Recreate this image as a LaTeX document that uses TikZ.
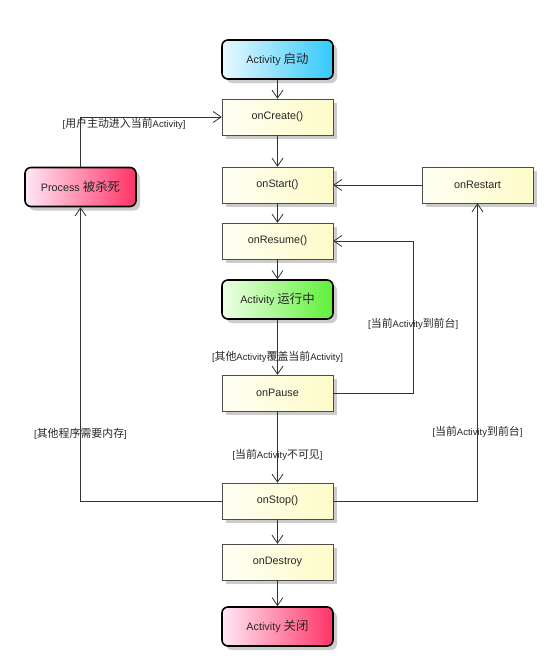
\documentclass[tikz,border=0pt]{standalone}
\usepackage{fontspec}
\setmainfont{Liberation Sans}
\newfontfamily\cjk[Scale=1.15]{Noto Sans CJK SC}
\usetikzlibrary{arrows.meta,shadows}
\definecolor{ylwA}{HTML}{FFFFF4}
\definecolor{ylwB}{HTML}{FDFBC8}
\definecolor{cynA}{HTML}{E8FAFF}
\definecolor{cynB}{HTML}{33C8FA}
\definecolor{grnA}{HTML}{F0FFE8}
\definecolor{grnB}{HTML}{5EF038}
\definecolor{pnkA}{HTML}{FFE8F6}
\definecolor{pnkB}{HTML}{FF3366}

\begin{document}
\begin{tikzpicture}[x=1pt,y=-1pt,every path/.style={>={Straight Barb[length=8pt,width=11pt]}},
  box/.style={draw=black!70,rectangle,minimum width=111pt,minimum height=36pt,
    left color=ylwA,right color=ylwB,text=black!85,font=\fontsize{10.8}{13}\selectfont,
    drop shadow={shadow xshift=4pt,shadow yshift=-4pt,fill=black!40,opacity=.5}},
  state/.style={box,draw=black,line width=1.6pt,rounded corners=6pt,minimum height=39pt},
  lbl/.style={font=\fontsize{9.5}{11}\selectfont,text=black!85,inner sep=1pt},
  line/.style={draw=black!80,line width=0.8pt}]
\useasboundingbox (0,0) rectangle (558,670);
\node[state,left color=cynA,right color=cynB] (start)   at (277.5,59.5)  {Activity {\cjk 启动}};
\node[box]                                    (create)  at (277.5,117)   {onCreate()};
\node[box]                                    (begin)   at (277.5,185)   {onStart()};
\node[box]                                    (resume)  at (277.5,241)   {onResume()};
\node[state,left color=grnA,right color=grnB] (run)     at (277.5,299.5) {Activity {\cjk 运行中}};
\node[box]                                    (pause)   at (277.5,393)   {onPause};
\node[box]                                    (stop)    at (277.5,501)   {onStop()};
\node[box]                                    (destroy) at (277.5,562)   {onDestroy};
\node[state,left color=pnkA,right color=pnkB] (close)   at (277.5,626.5) {Activity {\cjk 关闭}};
\node[state,left color=pnkA,right color=pnkB] (kill)    at (80.5,187)    {Process {\cjk 被杀死}};
\node[box]                                    (restart) at (477.5,185)   {onRestart};
\draw[line,->] (start) -- (create);
\draw[line,->] (create) -- (begin);
\draw[line,->] (begin) -- (resume);
\draw[line,->] (resume) -- (run);
\draw[line,->] (run) -- node[lbl,pos=0.68] {[{\cjk 其他}Activity{\cjk 覆盖当前}Activity]} (pause);
\draw[line,->] (pause) -- node[lbl,pos=0.61] {[{\cjk 当前}Activity{\cjk 不可见}]} (stop);
\draw[line,->] (stop) -- (destroy);
\draw[line,->] (destroy) -- (close);
\draw[line,->] (restart) -- (begin);
\draw[line,->] (kill) |- node[lbl,pos=0.654,below] {[{\cjk 用户主动进入当前}Activity]} (create);
\draw[line,->] (stop) -| node[lbl,pos=0.614] {[{\cjk 其他程序需要内存}]} (kill);
\draw[line,->] (stop) -| node[lbl,pos=0.616] {[{\cjk 当前}Activity{\cjk 到前台}]} (restart);
\draw[line,->] (pause) -| node[lbl,pos=0.727] {[{\cjk 当前}Activity{\cjk 到前台}]} ([xshift=80pt]resume.east) -- (resume);
\end{tikzpicture}
\end{document}
